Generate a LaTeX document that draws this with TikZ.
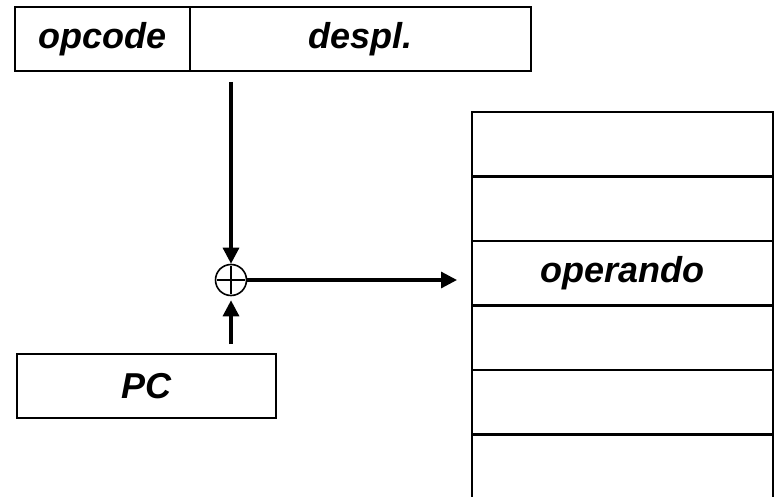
\documentclass[tikz,border=0pt]{standalone}
\usepackage{fontspec}
\setmainfont{Liberation Sans}
\usetikzlibrary{arrows.meta,positioning}

\begin{document}
\begin{tikzpicture}[x=1pt, y=-1pt,
  every node/.style={font=\fontsize{36}{40}\selectfont\bfseries\itshape},
  caja/.style={draw, line width=2.2pt, minimum height=64pt, inner sep=0pt, outer sep=0pt},
  flecha/.style={line width=3.2pt, -{Triangle[length=16pt,width=16pt]}}]

\useasboundingbox (0,0) rectangle (775,497);

% Instruccion
\node[caja, minimum width=175pt] (opcode) at (102.5,39) {opcode};
\node[caja, minimum width=341pt, right=0pt of opcode] (despl) {despl.};

% Registro PC
\node[caja, minimum width=259pt] (pc) at (146.5,386) {PC};

% Sumador
\node[circle, draw, line width=1.6pt, minimum size=31pt, inner sep=0pt] (suma) at (231,280) {};
\draw[line width=1.6pt, shorten <=2.5pt, shorten >=2.5pt] (suma.west) -- (suma.east);
\draw[line width=1.6pt, shorten <=2.5pt, shorten >=2.5pt] (suma.north) -- (suma.south);

% Memoria
\foreach \i in {0,...,4} {
    \node[caja, minimum width=301pt, minimum height=64.5pt] (m\i) at (622.5,{144.25+64.5*\i}) {};
}
\node (op) at (m2) {operando};
\draw[line width=2.2pt] (m4.south west) -- ++(0,70) (m4.south east) -- ++(0,70);

% Flechas
\draw[flecha, shorten <=11pt] (despl.south -| suma) -- (suma.north);
\draw[flecha, shorten <=10pt, shorten >=4pt] (pc.north -| suma) -- (suma.south);
\draw[flecha, shorten >=15pt] (suma.east) -- (suma -| m2.west);

\end{tikzpicture}
\end{document}
